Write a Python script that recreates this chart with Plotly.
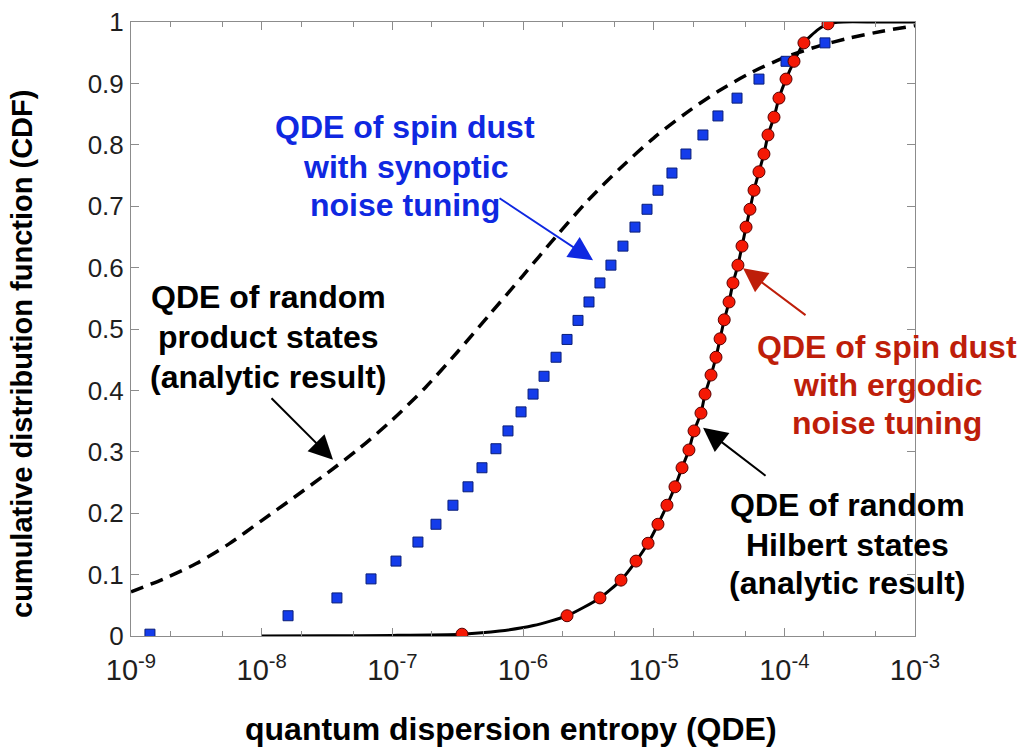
import numpy as np
import plotly.graph_objects as go

# ---------------- data ----------------
# x values are given as log10(QDE)
synoptic_log = [-8.855, -7.798, -7.424, -7.163, -6.972, -6.804, -6.666, -6.536, -6.421, -6.314,
                -6.207, -6.115, -6.015, -5.923, -5.839, -5.747, -5.663, -5.579, -5.495, -5.411,
                -5.327, -5.235, -5.143, -5.051, -4.967, -4.860, -4.753, -4.623, -4.508, -4.362,
                -4.194, -3.987, -3.689]
synoptic_cdf = [0.003, 0.033, 0.062, 0.093, 0.122, 0.153, 0.182, 0.213, 0.243, 0.274,
                0.305, 0.334, 0.365, 0.394, 0.423, 0.454, 0.483, 0.514, 0.544, 0.575,
                0.604, 0.635, 0.666, 0.695, 0.726, 0.754, 0.785, 0.816, 0.847, 0.876,
                0.907, 0.936, 0.966]

ergodic_log = [-6.467, -5.663, -5.411, -5.250, -5.135, -5.043, -4.967, -4.898, -4.837, -4.783,
               -4.730, -4.691, -4.638, -4.607, -4.561, -4.523, -4.492, -4.460, -4.423, -4.393,
               -4.355, -4.324, -4.293, -4.263, -4.232, -4.194, -4.156, -4.125, -4.079, -4.041,
               -3.987, -3.926, -3.850, -3.666]
ergodic_cdf = [0.003, 0.033, 0.062, 0.091, 0.122, 0.151, 0.182, 0.213, 0.243, 0.274,
               0.303, 0.334, 0.363, 0.394, 0.425, 0.454, 0.484, 0.515, 0.544, 0.575,
               0.604, 0.635, 0.666, 0.695, 0.726, 0.756, 0.785, 0.816, 0.845, 0.876,
               0.907, 0.936, 0.966, 0.997]

hilbert_log = [-8.0, -7.5, -7.0, -6.47, -6.18, -5.92, -5.663, -5.411, -5.250, -5.135,
               -5.043, -4.967, -4.898, -4.837, -4.783, -4.730, -4.691, -4.638, -4.607, -4.561,
               -4.523, -4.492, -4.460, -4.423, -4.393, -4.355, -4.324, -4.293, -4.263, -4.232,
               -4.194, -4.156, -4.125, -4.079, -4.041, -3.987, -3.926, -3.850, -3.740, -3.666,
               -3.55, -3.30, -3.0]
hilbert_cdf = [0.0, 0.0003, 0.001, 0.003, 0.008, 0.017, 0.033, 0.062, 0.091, 0.122,
               0.151, 0.182, 0.213, 0.243, 0.274, 0.303, 0.334, 0.363, 0.394, 0.425,
               0.454, 0.484, 0.515, 0.544, 0.575, 0.604, 0.635, 0.666, 0.695, 0.726,
               0.756, 0.785, 0.816, 0.845, 0.876, 0.907, 0.936, 0.966, 0.988, 0.997,
               1.0, 1.0, 1.0]

product_log = [-9.0, -8.75, -8.5, -8.25, -8.0, -7.75, -7.5, -7.25, -7.0, -6.75,
               -6.5, -6.25, -6.0, -5.75, -5.5, -5.25, -5.0, -4.75, -4.5, -4.25,
               -4.0, -3.75, -3.5, -3.25, -3.0]
product_cdf = [0.072, 0.093, 0.118, 0.150, 0.188, 0.226, 0.265, 0.306, 0.352, 0.404,
               0.463, 0.525, 0.587, 0.650, 0.710, 0.763, 0.811, 0.852, 0.888, 0.918,
               0.942, 0.960, 0.974, 0.985, 0.994]

x_tick_exps = [-9, -8, -7, -6, -5, -4, -3]
x_tick_text = ["10<sup>-9</sup>", "10<sup>-8</sup>", "10<sup>-7</sup>", "10<sup>-6</sup>",
               "10<sup>-5</sup>", "10<sup>-4</sup>", "10<sup>-3</sup>"]
y_tick_vals = [0, 0.1, 0.2, 0.3, 0.4, 0.5, 0.6, 0.7, 0.8, 0.9, 1]
y_tick_text = ["0", "0.1", "0.2", "0.3", "0.4", "0.5", "0.6", "0.7", "0.8", "0.9", "1"]

# ---------------- figure ----------------
W, H = 1024, 748
ML, MR, MT, MB = 131, 109, 22, 112
PW, PH = W - ML - MR, H - MT - MB

def pxx(px):
    return (px - ML) / PW

def pxy(py):
    return (H - MB - py) / PH

tolin = lambda a: 10.0 ** np.array(a)

fig = go.Figure()
fig.add_trace(go.Scatter(x=tolin(product_log), y=product_cdf, mode="lines",
                         line=dict(color="black", width=3.5, dash="13px,8px",
                                   shape="spline", smoothing=0.8),
                         hoverinfo="skip"))
fig.add_trace(go.Scatter(x=tolin(hilbert_log), y=hilbert_cdf, mode="lines",
                         line=dict(color="black", width=3, shape="spline", smoothing=0.6),
                         hoverinfo="skip"))
fig.add_trace(go.Scatter(x=tolin(synoptic_log), y=synoptic_cdf, mode="markers",
                         marker=dict(symbol="square", size=10, color="rgb(20,60,235)",
                                     line=dict(color="rgb(10,30,120)", width=1))))
fig.add_trace(go.Scatter(x=tolin(ergodic_log), y=ergodic_cdf, mode="markers",
                         marker=dict(symbol="circle", size=12, color="rgb(245,25,5)",
                                     line=dict(color="rgb(90,0,0)", width=1))))

ann = []
FONT = "Liberation Sans, Arial, sans-serif"
FS = 32

def label(lines, cx, ys, color):
    for t, y in zip(lines, ys):
        ann.append(dict(text=t, xref="paper", yref="paper", x=pxx(cx), y=pxy(y),
                        xanchor="center", yanchor="middle", showarrow=False,
                        font=dict(family=FONT, size=FS, color=color, weight="bold")))

BLUE = "rgb(15,40,225)"
RED = "rgb(190,30,10)"
label(["QDE of spin dust", "with synoptic", "noise tuning"], 405, [127, 167, 205], BLUE)
label(["QDE of random", "product states", "(analytic result)"], 268, [297, 337, 377], "black")
label(["QDE of spin dust", "with ergodic", "noise tuning"], 887, [347, 385, 423], RED)
label(["QDE of random", "Hilbert states", "(analytic result)"], 847, [505, 545, 583], "black")

def arrow(hx_log, hy, ax, ay, color, w=2):
    ann.append(dict(text="", x=hx_log, y=hy, xref="x", yref="y", ax=ax, ay=ay,
                    showarrow=True, arrowhead=2, arrowsize=2.4, arrowwidth=w,
                    arrowcolor=color))

arrow(-5.464, 0.612, -95, -63, BLUE)
arrow(-7.454, 0.287, -63, -63, "black")
arrow(-4.316, 0.599, 64, 48, RED)
arrow(-4.622, 0.339, 64, 49, "black")

# axis titles
ann.append(dict(text="quantum dispersion entropy (QDE)", xref="paper", yref="paper",
                x=pxx(511), y=pxy(729), xanchor="center", yanchor="middle", showarrow=False,
                font=dict(family=FONT, size=FS, color="black", weight="bold")))
ann.append(dict(text="cumulative distribution function (CDF)", xref="paper", yref="paper",
                x=pxx(22), y=pxy(354), xanchor="center", yanchor="middle", showarrow=False,
                textangle=-90,
                font=dict(family=FONT, size=29, color="black", weight="bold")))

AX = "rgb(140,140,140)"
fig.update_layout(
    width=W, height=H, margin=dict(l=ML, r=MR, t=MT, b=MB, autoexpand=False),
    paper_bgcolor="white", plot_bgcolor="white", showlegend=False,
    annotations=ann,
    xaxis=dict(type="log", range=[-9, -3], tickvals=tolin(x_tick_exps), ticktext=x_tick_text,
               ticks="inside", ticklen=8, tickcolor=AX, tickwidth=1,
               showline=True, linecolor=AX, linewidth=1, mirror="ticks",
               showgrid=False, zeroline=False, ticklabelstandoff=8, automargin=False,
               minor=dict(ticks="inside", ticklen=5, tickcolor=AX, showgrid=False),
               tickfont=dict(family=FONT, size=29, color="rgb(30,30,30)")),
    yaxis=dict(range=[0, 1], tickvals=y_tick_vals, ticktext=y_tick_text,
               ticks="inside", ticklen=8, tickcolor=AX, tickwidth=1,
               showline=True, linecolor=AX, linewidth=1, mirror="ticks",
               showgrid=False, zeroline=False, ticklabelstandoff=1, automargin=False,
               tickfont=dict(family=FONT, size=26, color="rgb(30,30,30)")),
)

fig.write_html("out.html", config={"displayModeBar": False},
               post_script="document.body.style.margin='0';document.body.style.overflow='hidden';")
